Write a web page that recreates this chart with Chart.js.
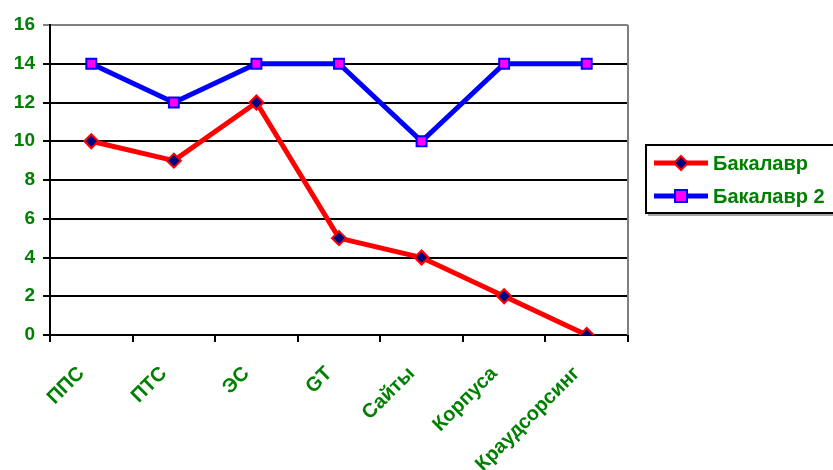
<!DOCTYPE html>
<html>
<head>
<meta charset="utf-8">
<script src="https://cdn.jsdelivr.net/npm/chart.js@4"></script>
<style>
  html, body { margin: 0; padding: 0; background: #fff; }
  #wrap { width: 833px; height: 470px; }
</style>
</head>
<body>
<div id="wrap"><canvas id="lineChart" width="833" height="470"></canvas></div>
<script>
// Data
const categories = ["ППС", "ПТС", "ЭС", "GT", "Сайты", "Корпуса", "Краудсорсинг"];
const bakalavr = [10, 9, 12, 5, 4, 2, 0];
const bakalavr2 = [14, 12, 14, 14, 10, 14, 14];
const yTicks = [0, 2, 4, 6, 8, 10, 12, 14, 16];

const green = "#008000";
const font = "'Liberation Sans', Arial, sans-serif";

// Chart frame (gray right border) and boxed legend on the right
const framePlugin = {
    id: 'frame',
    afterDraw(chart) {
        const c = chart.ctx;
        const a = chart.chartArea;
        c.save();
        c.strokeStyle = "#808080";
        c.lineWidth = 2;
        c.beginPath();
        c.moveTo(a.right, a.top);
        c.lineTo(a.right, a.bottom);
        c.stroke();

        // legend
        const lx = 646, ly = 145, lw = 200, lh = 68;
        c.strokeStyle = "#000";
        c.lineWidth = 2;
        c.strokeRect(lx, ly, lw, lh);
        c.fillStyle = "rgba(0,0,0,0.35)";
        c.fillRect(lx + 2, ly + lh + 1, lw, 2);

        chart.data.datasets.forEach((ds, i) => {
            const y = ly + 18 + i * 33;
            c.strokeStyle = ds.borderColor;
            c.lineWidth = 5;
            c.beginPath();
            c.moveTo(654, y);
            c.lineTo(708, y);
            c.stroke();
            c.fillStyle = ds.pointBackgroundColor;
            c.strokeStyle = ds.pointBorderColor;
            c.lineWidth = 2;
            if (ds.pointStyle === 'rectRot') {
                c.beginPath();
                c.moveTo(681, y - 7);
                c.lineTo(688, y);
                c.lineTo(681, y + 7);
                c.lineTo(674, y);
                c.closePath();
            } else {
                c.beginPath();
                c.rect(675, y - 6, 12, 12);
            }
            c.fill();
            c.stroke();
            c.fillStyle = green;
            c.font = "bold 20px " + font;
            c.textBaseline = "middle";
            c.fillText(ds.label, 713, y + 1);
        });
        c.restore();
    }
};

new Chart(document.getElementById('lineChart').getContext('2d'), {
    type: 'line',
    data: {
        labels: categories,
        datasets: [
            {
                label: "Бакалавр",
                data: bakalavr,
                borderColor: "#ff0000",
                borderWidth: 5,
                pointStyle: 'rectRot',
                pointRadius: 7,
                pointBackgroundColor: "#000080",
                pointBorderColor: "#ff0000",
                pointBorderWidth: 2,
                tension: 0
            },
            {
                label: "Бакалавр 2",
                data: bakalavr2,
                borderColor: "#0000ff",
                borderWidth: 5,
                pointStyle: 'rect',
                pointRadius: 7,
                pointBackgroundColor: "#ff00ff",
                pointBorderColor: "#0000ff",
                pointBorderWidth: 2,
                tension: 0
            }
        ]
    },
    options: {
        responsive: false,
        animation: false,
        layout: { padding: { top: 25, right: 205, left: 0, bottom: 0 } },
        plugins: {
            legend: { display: false },
            tooltip: { enabled: false }
        },
        scales: {
            x: {
                offset: true,
                afterFit(scale) { scale.height = 135; },
                grid: {
                    offset: true,
                    drawOnChartArea: false,
                    drawTicks: true,
                    tickLength: 7,
                    color: "#000",
                    lineWidth: 2
                },
                border: { color: "#000", width: 2 },
                ticks: {
                    color: green,
                    font: { family: font, size: 20, weight: 'bold' },
                    minRotation: 45,
                    maxRotation: 45,
                    autoSkip: false,
                    labelOffset: -10,
                    padding: 20
                }
            },
            y: {
                min: 0,
                max: 16,
                afterFit(scale) { scale.width = 50; },
                afterBuildTicks(scale) { scale.ticks = yTicks.map(v => ({ value: v })); },
                grid: {
                    color: ctx => ctx.tick && ctx.tick.value === 16 ? "#808080" : "#000",
                    lineWidth: 2,
                    tickLength: 7
                },
                border: { color: "#000", width: 2 },
                ticks: {
                    color: green,
                    font: { family: font, size: 19, weight: 'bold' },
                    padding: 8
                }
            }
        }
    },
    plugins: [framePlugin]
});
</script>
</body>
</html>
